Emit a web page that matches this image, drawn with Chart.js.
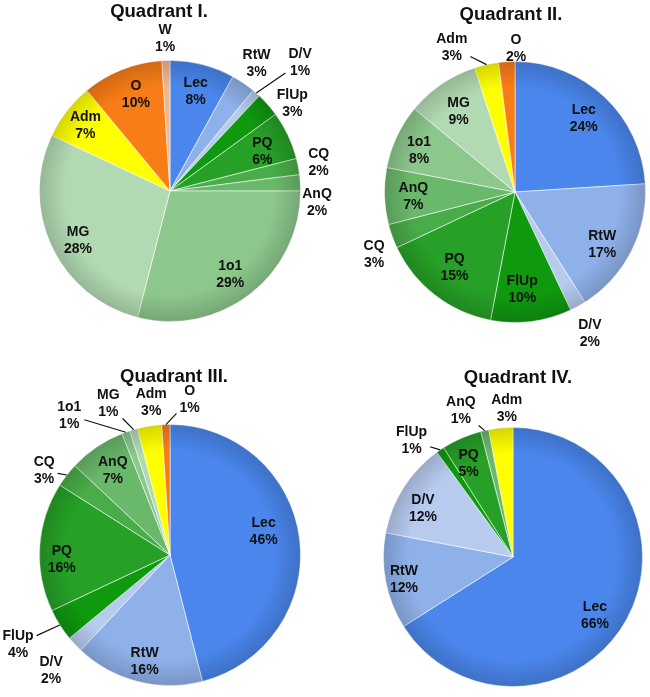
<!DOCTYPE html>
<html lang="en">
<head>
  <meta charset="UTF-8" />
  <title>Quadrants</title>
  <script src="https://cdn.jsdelivr.net/npm/chart.js"></script>
  <style>
    body { margin: 0; background: #fff; }
    #wrap { position: relative; width: 650px; height: 697px; overflow: hidden; }
    #wrap canvas { position: absolute; left: 0; top: 0; }
    .titulo {
      position: absolute; transform: translateX(-50%); white-space: nowrap;
      font: bold 18.5px "Liberation Sans", Arial, sans-serif; line-height: 18px; color: #111;
    }
  </style>
</head>
<body>
<div id="wrap">
  <canvas id="q1" width="650" height="697"></canvas>
  <canvas id="q2" width="650" height="697"></canvas>
  <canvas id="q3" width="650" height="697"></canvas>
  <canvas id="q4" width="650" height="697"></canvas>
  <div class="titulo" style="left:159px; top:2px">Quadrant I.</div>
  <div class="titulo" style="left:511px; top:5px">Quadrant II.</div>
  <div class="titulo" style="left:174px; top:367px">Quadrant III.</div>
  <div class="titulo" style="left:518px; top:368px">Quadrant IV.</div>
</div>

<script>
  // Data (percent of time per activity, clockwise from 12 o'clock)
  const q1Labels = ['Lec', 'RtW', 'D/V', 'FlUp', 'PQ', 'CQ', 'AnQ', '1o1', 'MG', 'Adm', 'O', 'W'];
  const q1Values = [8, 3, 1, 3, 6, 2, 2, 29, 28, 7, 10, 1];

  const q2Labels = ['Lec', 'RtW', 'D/V', 'FlUp', 'PQ', 'CQ', 'AnQ', '1o1', 'MG', 'Adm', 'O'];
  const q2Values = [24, 17, 2, 10, 15, 3, 7, 8, 9, 3, 2];

  const q3Labels = ['Lec', 'RtW', 'D/V', 'FlUp', 'PQ', 'CQ', 'AnQ', '1o1', 'MG', 'Adm', 'O'];
  const q3Values = [46, 16, 2, 4, 16, 3, 7, 1, 1, 3, 1];

  const q4Labels = ['Lec', 'RtW', 'D/V', 'FlUp', 'PQ', 'AnQ', 'Adm'];
  const q4Values = [66, 12, 12, 1, 5, 1, 3];

  // colours per category
  const cores = {
    'Lec': '#4a86ec', 'RtW': '#8fb1ea', 'D/V': '#b7cbef',
    'FlUp': '#0f990f', 'PQ': '#26a026', 'CQ': '#48ac48', 'AnQ': '#6ab86a',
    '1o1': '#8cc78c', 'MG': '#b2dab2', 'Adm': '#ffff00', 'O': '#f97d16', 'W': '#f3b58c'
  };

  // label placement: [radius factor, angle shift in degrees, leader line]
  const q1Place = [[0.79, 0], [1.18, 0], [1.4, 4, 1], [1.15, 6], [0.77, 2], [1.16, 0],
                   [1.13, 8], [0.79, 2], [0.8, -3], [0.82, 0], [0.78, 2], [1.17, 0]];
  const q2Place = [[0.77, 0], [0.78, 4], [1.23, 1], [0.75, 3], [0.74, 1], [1.18, -4],
                   [0.78, -1], [0.8, -2], [0.75, -1], [1.21, -11, 1], [1.1, 4]];
  const q3Place = [[0.74, -7], [0.84, -1], [1.27, -1], [1.35, 2, 1], [0.83, -6], [1.16, -4, 1],
                   [0.78, 0], [1.32, -16, 1], [1.25, -6, 1], [1.18, 2], [1.2, 9, 1]];
  const q4Place = [[0.78, 7], [0.86, -1], [0.79, -4], [1.19, -7, 1], [0.8, -2], [1.2, -7, 1], [1.15, 3]];

  // sombreado + rótulos
  const rotulos = {
    id: 'rotulos',
    afterDatasetsDraw(chart, args, opts) {
      const ctx = chart.ctx;
      const meta = chart.getDatasetMeta(0);
      const vals = chart.data.datasets[0].data;
      const a0 = meta.data[0].getProps(['x', 'y', 'outerRadius'], true);

      // borda escura, efeito 3D
      ctx.save();
      const g = ctx.createRadialGradient(a0.x, a0.y, 0, a0.x, a0.y, a0.outerRadius);
      g.addColorStop(0, 'rgba(255,255,255,0)');
      g.addColorStop(0.8, 'rgba(0,0,0,0)');
      g.addColorStop(1, 'rgba(0,0,0,0.16)');
      ctx.fillStyle = g;
      ctx.beginPath();
      ctx.arc(a0.x, a0.y, a0.outerRadius, 0, Math.PI * 2);
      ctx.fill();
      ctx.restore();

      ctx.save();
      ctx.font = 'bold 14px "Liberation Sans", Arial, sans-serif';
      ctx.fillStyle = '#111';
      ctx.strokeStyle = '#111';
      ctx.lineWidth = 1.2;
      ctx.textAlign = 'center';
      ctx.textBaseline = 'middle';
      meta.data.forEach((arc, i) => {
        const p = arc.getProps(['x', 'y', 'startAngle', 'endAngle', 'outerRadius'], true);
        const pos = opts.place[i];
        const mid0 = (p.startAngle + p.endAngle) / 2;
        const mid = mid0 + pos[1] * Math.PI / 180;
        const lx = p.x + Math.cos(mid) * p.outerRadius * pos[0];
        const ly = p.y + Math.sin(mid) * p.outerRadius * pos[0];
        const l1 = chart.data.labels[i];
        const l2 = vals[i] + '%';
        if (pos[2]) {
          const ex = p.x + Math.cos(mid0) * p.outerRadius;
          const ey = p.y + Math.sin(mid0) * p.outerRadius;
          const hw = Math.max(ctx.measureText(l1).width, ctx.measureText(l2).width) / 2 + 3;
          const hh = 18;
          const dx = ex - lx, dy = ey - ly;
          const t = Math.min(hw / Math.max(Math.abs(dx), 1e-6), hh / Math.max(Math.abs(dy), 1e-6));
          ctx.beginPath();
          ctx.moveTo(ex, ey);
          ctx.lineTo(lx + dx * t, ly + dy * t);
          ctx.stroke();
        }
        ctx.fillText(l1, lx, ly - 8.5);
        ctx.fillText(l2, lx, ly + 8.5);
      });
      ctx.restore();
    }
  };

  function pizza(id, labels, values, place, pad) {
    return new Chart(document.getElementById(id), {
      type: 'pie',
      data: {
        labels: labels,
        datasets: [{
          data: values,
          backgroundColor: labels.map(l => cores[l]),
          borderColor: 'rgba(255,255,255,0.55)',
          borderWidth: 1
        }]
      },
      options: {
        responsive: false,
        animation: false,
        layout: { padding: pad },
        plugins: {
          legend: { display: false },
          tooltip: { enabled: false },
          rotulos: { place: place }
        }
      },
      plugins: [rotulos]
    });
  }

  pizza('q1', q1Labels, q1Values, q1Place, { left: 39, top: 60, right: 349, bottom: 375 });
  pizza('q2', q2Labels, q2Values, q2Place, { left: 384, top: 61, right: 4, bottom: 374 });
  pizza('q3', q3Labels, q3Values, q3Place, { left: 39, top: 424, right: 349, bottom: 11 });
  pizza('q4', q4Labels, q4Values, q4Place, { left: 383, top: 427, right: 7, bottom: 10 });
</script>
</body>
</html>
